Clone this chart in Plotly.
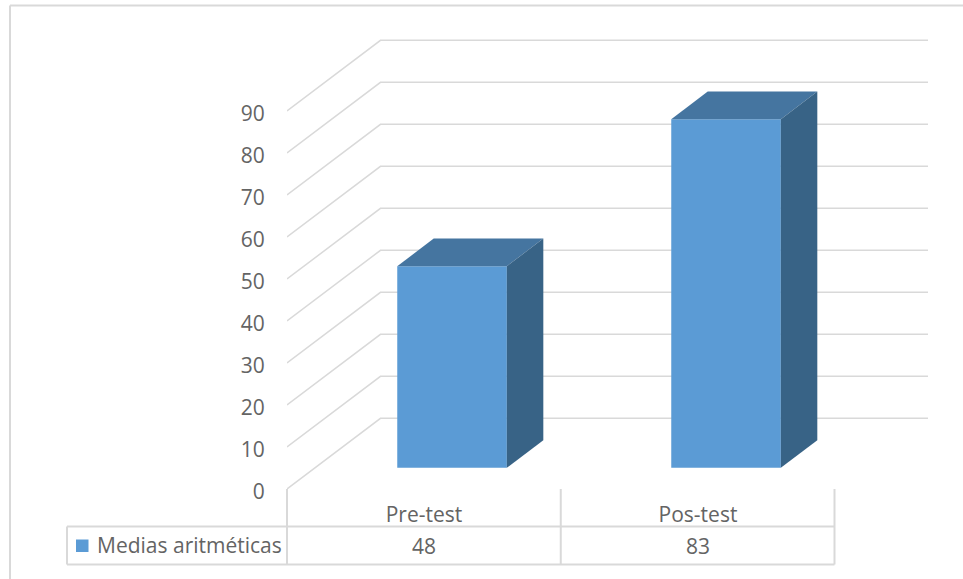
import plotly.graph_objects as go

categories = ["Pre-test", "Pos-test"]
values = [48, 83]
series_name = "Medias aritméticas"
y_ticks = [0, 10, 20, 30, 40, 50, 60, 70, 80, 90]

W, H = 963, 579
L, R, T, B = 287, 928, 39, 489
CAT_PX = 274.0
PX_PER_UNIT = 4.2
X_MAX = (R - L) / CAT_PX
Y_MAX = (B - T) / PX_PER_UNIT
DX, DY = 93.5 / CAT_PX, 70.7 / PX_PER_UNIT  # oblique depth of the wall
Z_FRONT, Z_BACK = 0.30, 0.69                # bar depth extents
BAR_W = 0.40

FRONT, TOP, SIDE = "#5B9BD5", "#4575A0", "#386386"
GRID, TXT = "#D9D9D9", "#646464"
FONT = "Open Sans"


def proj(x, y, z):
    return x + z * DX, y + z * DY


def px(xp):
    return (xp - L) / (R - L)


def py(yp):
    return (B - yp) / (B - T)


fig = go.Figure()
xc = [i + 0.5 for i in range(len(categories))]

# front faces
fig.add_bar(
    x=[proj(c, 0, Z_FRONT)[0] for c in xc],
    y=values,
    base=Z_FRONT * DY,
    width=BAR_W,
    marker=dict(color=FRONT, line=dict(width=0)),
    name=series_name,
    showlegend=False,
    hoverinfo="skip",
)

# top and side faces
for c, v in zip(xc, values):
    x0, x1 = c - BAR_W / 2, c + BAR_W / 2
    top = [proj(x0, v, Z_FRONT), proj(x1, v, Z_FRONT), proj(x1, v, Z_BACK), proj(x0, v, Z_BACK)]
    side = [proj(x1, 0, Z_FRONT), proj(x1, v, Z_FRONT), proj(x1, v, Z_BACK), proj(x1, 0, Z_BACK)]
    for pts, col in ((top, TOP), (side, SIDE)):
        fig.add_scatter(
            x=[p[0] for p in pts], y=[p[1] for p in pts],
            mode="lines", fill="toself", fillcolor=col,
            line=dict(width=0, color=col), showlegend=False, hoverinfo="skip",
        )

shapes = []
# wall gridlines, behind the bars
for t in y_ticks:
    bx, by = proj(0, t, 1)
    shapes.append(dict(
        type="path", layer="below",
        path=f"M 0 {t} L {bx} {by} L {X_MAX} {by}",
        line=dict(color=GRID, width=1.5),
    ))


def tline(x0, y0, x1, y1, w=2):
    shapes.append(dict(type="line", xref="paper", yref="paper",
                       x0=px(x0), y0=py(y0), x1=px(x1), y1=py(y1),
                       line=dict(color=GRID, width=w)))


# data table
TAB_L, TAB_R, ROW_T, ROW_B = 67, 834.5, 526.5, 564.5
tline(TAB_L, ROW_T, TAB_R, ROW_T)
tline(TAB_L, ROW_B, TAB_R, ROW_B)
tline(TAB_L, ROW_T, TAB_L, ROW_B)
for i in range(len(categories) + 1):
    xp = L + i * (TAB_R - L) / len(categories)
    tline(xp, B, xp, ROW_B)
# outer chart frame
tline(10, 5.5, W, 5.5)
tline(10, 5.5, 10, H)

# series key in the data table
shapes.append(dict(type="rect", xref="paper", yref="paper",
                   x0=px(76), x1=px(88.5), y0=py(539.5), y1=py(552),
                   fillcolor=FRONT, line=dict(width=0)))

annotations = [
    dict(x=c, y=py(545.5), xref="x", yref="paper", text=str(v), showarrow=False,
         xanchor="center", yanchor="middle", font=dict(family=FONT, size=21, color=TXT))
    for c, v in zip(xc, values)
]
annotations.append(dict(x=px(95), y=py(545), xref="paper", yref="paper", text=series_name,
                        showarrow=False, xanchor="left", yanchor="middle",
                        font=dict(family=FONT, size=21, color=TXT)))

fig.update_layout(
    width=W, height=H,
    margin=dict(l=L, r=W - R, t=T, b=H - B, pad=0, autoexpand=False),
    paper_bgcolor="white", plot_bgcolor="rgba(0,0,0,0)",
    shapes=shapes, annotations=annotations,
    font=dict(family=FONT, color=TXT),
    showlegend=False,
    xaxis=dict(range=[0, X_MAX], tickmode="array", tickvals=xc, ticktext=categories,
               showgrid=False, zeroline=False, showline=False, ticks="outside",
               ticklen=7, tickcolor="rgba(0,0,0,0)",
               tickfont=dict(family=FONT, size=21, color=TXT), fixedrange=True),
    yaxis=dict(range=[0, Y_MAX], tickmode="array", tickvals=y_ticks,
               showgrid=False, zeroline=False, showline=False, ticks="outside",
               ticklen=17, tickcolor="rgba(0,0,0,0)", ticklabelshift=3,
               tickfont=dict(family=FONT, size=21, color=TXT), fixedrange=True),
)

fig.write_html("out.html", config={"displayModeBar": False},
               post_script="document.body.style.margin='0';document.body.style.overflow='hidden';")
